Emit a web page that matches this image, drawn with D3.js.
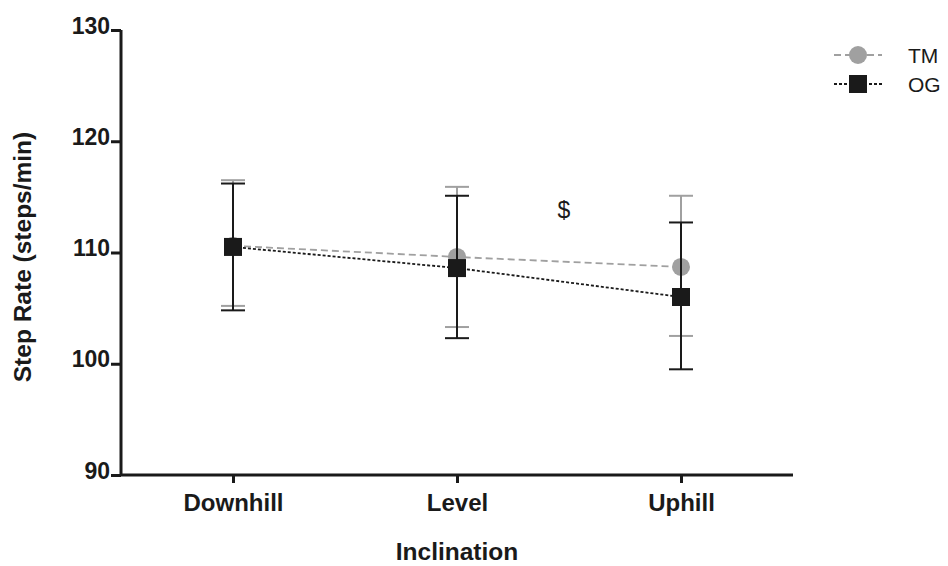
<!DOCTYPE html>
<html>
<head>
<meta charset="utf-8">
<script src="https://cdn.jsdelivr.net/npm/d3@7"></script>
<style>
  body { margin: 0; background: #fff; }
  text { font-family: "Liberation Sans", Arial, sans-serif; }
</style>
</head>
<body>
<div id="chart"></div>
<script>
const width = 948, height = 566
const margin = {top: 30, right: 155, bottom: 91, left: 121}

// data
const categories = ["Downhill", "Level", "Uphill"]
const tmMean = [110.6, 109.6, 108.7]
const tmUpper = [116.5, 115.9, 115.1]
const tmLower = [105.2, 103.3, 102.5]
const ogMean = [110.5, 108.6, 106.0]
const ogUpper = [116.2, 115.1, 112.7]
const ogLower = [104.8, 102.3, 99.5]
const yTicks = [90, 100, 110, 120, 130]

const series = [
    {name: "TM", mean: tmMean, upper: tmUpper, lower: tmLower, color: "#a0a0a0", dash: "7,4", shape: "circle"},
    {name: "OG", mean: ogMean, upper: ogUpper, lower: ogLower, color: "#1a1a1a", dash: "3,2", shape: "square"}
]

const svg = d3.select("#chart").append("svg")
    .attr("width", width)
    .attr("height", height)

const x = d3.scalePoint()
    .domain(categories)
    .range([margin.left, width - margin.right])
    .padding(0.5)

const y = d3.scaleLinear()
    .domain([90, 130])
    .range([height - margin.bottom, margin.top])

// axes
const yAxis = svg.append("g")
    .attr("transform", `translate(${margin.left},0)`)
    .call(d3.axisLeft(y).tickValues(yTicks).tickSize(10).tickPadding(1))
yAxis.select(".domain").attr("d", `M0,${y(130)}V${y(90)}`)

const xAxis = svg.append("g")
    .attr("transform", `translate(0,${y(90)})`)
    .call(d3.axisBottom(x).tickSize(8).tickPadding(6))
xAxis.select(".domain").attr("d", `M${margin.left},0H${width - margin.right}`)

svg.selectAll(".domain, .tick line")
    .attr("stroke", "#1a1a1a")
    .attr("stroke-width", 3)
svg.selectAll(".tick text")
    .attr("font-weight", "bold")
    .attr("fill", "#1a1a1a")
xAxis.selectAll(".tick text").attr("font-size", 24).attr("dy", "0.92em")
yAxis.selectAll(".tick text").attr("font-size", 23).attr("dy", "0.13em")

svg.append("text")
    .attr("transform", `translate(31,257) rotate(-90)`)
    .attr("text-anchor", "middle")
    .attr("font-size", 24.5)
    .attr("font-weight", "bold")
    .attr("fill", "#1a1a1a")
    .text("Step Rate (steps/min)")

svg.append("text")
    .attr("x", x("Level"))
    .attr("y", 560)
    .attr("text-anchor", "middle")
    .attr("font-size", 24.5)
    .attr("font-weight", "bold")
    .attr("fill", "#1a1a1a")
    .text("Inclination")

// error bars, lines and markers
series.forEach(s => {
    const g = svg.append("g")
    const capW = 12

    categories.forEach((c, i) => {
        const cx = x(c)
        g.append("line")
            .attr("x1", cx).attr("x2", cx)
            .attr("y1", y(s.upper[i])).attr("y2", y(s.lower[i]))
            .attr("stroke", s.color).attr("stroke-width", 2)
        ;[s.upper[i], s.lower[i]].forEach(v => {
            g.append("line")
                .attr("x1", cx - capW).attr("x2", cx + capW)
                .attr("y1", y(v)).attr("y2", y(v))
                .attr("stroke", s.color).attr("stroke-width", 2)
        })
    })

    const line = d3.line()
        .x((d, i) => x(categories[i]))
        .y(d => y(d))
    g.append("path")
        .datum(s.mean)
        .attr("d", line)
        .attr("fill", "none")
        .attr("stroke", s.color)
        .attr("stroke-width", 1.8)
        .attr("stroke-dasharray", s.dash)

    categories.forEach((c, i) => {
        if (s.shape === "circle") {
            g.append("circle")
                .attr("cx", x(c)).attr("cy", y(s.mean[i]))
                .attr("r", 9)
                .attr("fill", s.color)
        } else {
            g.append("rect")
                .attr("x", x(c) - 9).attr("y", y(s.mean[i]) - 9)
                .attr("width", 18).attr("height", 18)
                .attr("fill", s.color)
        }
    })
})

// significance mark
svg.append("text")
    .attr("x", (x("Level") + x("Uphill")) / 2 - 5)
    .attr("y", 218)
    .attr("text-anchor", "middle")
    .attr("font-size", 23)
    .attr("fill", "#1a1a1a")
    .text("$")

// legend
const legend = svg.append("g")
series.forEach((s, i) => {
    const ly = 55 + i * 29
    legend.append("line")
        .attr("x1", 834).attr("x2", 882)
        .attr("y1", ly).attr("y2", ly)
        .attr("stroke", s.color)
        .attr("stroke-width", 1.8)
        .attr("stroke-dasharray", s.dash)
    if (s.shape === "circle") {
        legend.append("circle")
            .attr("cx", 858).attr("cy", ly).attr("r", 9)
            .attr("fill", s.color)
    } else {
        legend.append("rect")
            .attr("x", 849).attr("y", ly - 9)
            .attr("width", 18).attr("height", 18)
            .attr("fill", s.color)
    }
    legend.append("text")
        .attr("x", 908)
        .attr("y", ly + 8)
        .attr("font-size", 21)
        .attr("fill", "#1a1a1a")
        .text(s.name)
})
</script>
</body>
</html>
